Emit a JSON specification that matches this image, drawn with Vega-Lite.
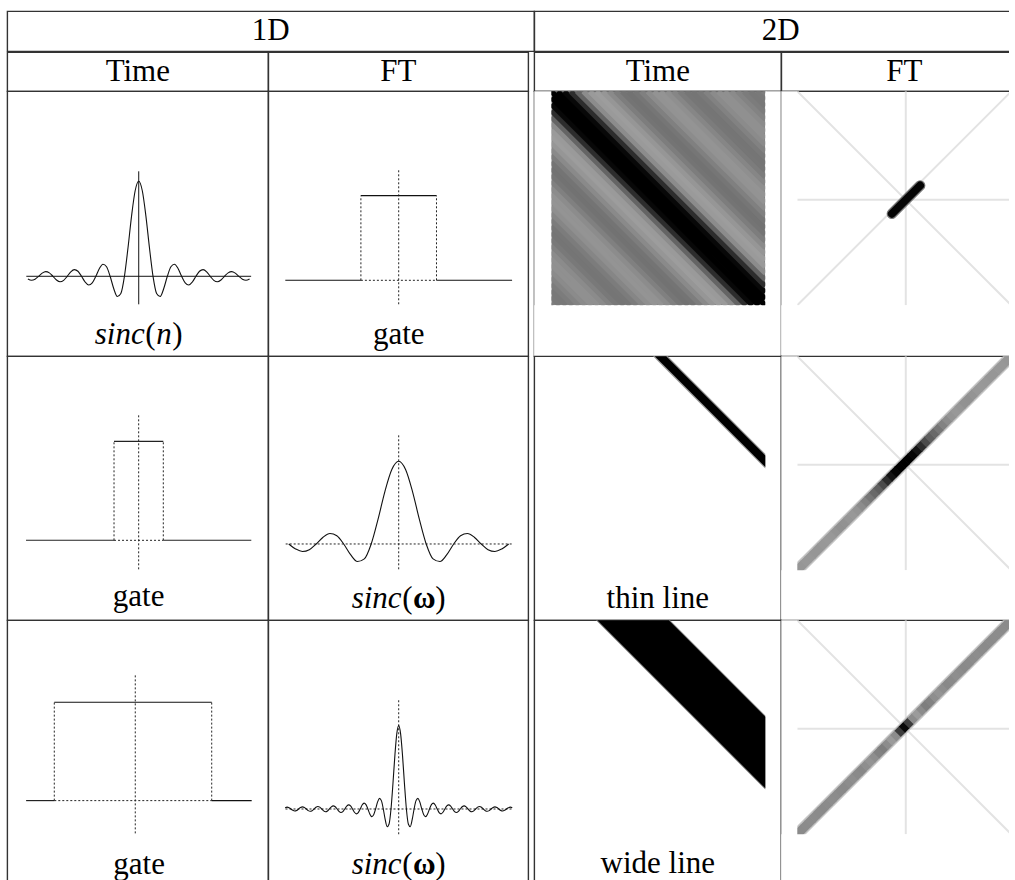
{
"$schema":"https://vega.github.io/schema/vega-lite/v6.json",
"background":"white",
"padding":{"left":6.3,"top":10.3,"right":-19.7,"bottom":-3.7},
"config":{"view":{"stroke":"#333","strokeWidth":1.4},"font":"Liberation Serif","text":{"font":"Liberation Serif","fontSize":31,"color":"#000"}},
"datasets":{
"sinc":[{"x":-14.75,"y":0.0153},{"x":-14.5,"y":0.022},{"x":-14.25,"y":0.0158},{"x":-14,"y":0},{"x":-13.75,"y":-0.0164},{"x":-13.5,"y":-0.0236},{"x":-13.25,"y":-0.017},{"x":-13,"y":0},{"x":-12.75,"y":0.0177},{"x":-12.5,"y":0.0255},{"x":-12.25,"y":0.0184},{"x":-12,"y":0},{"x":-11.75,"y":-0.0192},{"x":-11.5,"y":-0.0277},{"x":-11.25,"y":-0.02},{"x":-11,"y":0},{"x":-10.75,"y":0.0209},{"x":-10.5,"y":0.0303},{"x":-10.25,"y":0.022},{"x":-10,"y":0},{"x":-9.75,"y":-0.0231},{"x":-9.5,"y":-0.0335},{"x":-9.25,"y":-0.0243},{"x":-9,"y":0},{"x":-8.75,"y":0.0257},{"x":-8.5,"y":0.0374},{"x":-8.25,"y":0.0273},{"x":-8,"y":0},{"x":-7.75,"y":-0.029},{"x":-7.5,"y":-0.0424},{"x":-7.25,"y":-0.031},{"x":-7,"y":0},{"x":-6.75,"y":0.0333},{"x":-6.5,"y":0.049},{"x":-6.25,"y":0.036},{"x":-6,"y":0},{"x":-5.75,"y":-0.0391},{"x":-5.5,"y":-0.0579},{"x":-5.25,"y":-0.0429},{"x":-5,"y":0},{"x":-4.75,"y":0.0474},{"x":-4.5,"y":0.0707},{"x":-4.25,"y":0.053},{"x":-4,"y":0},{"x":-3.75,"y":-0.06},{"x":-3.5,"y":-0.0909},{"x":-3.25,"y":-0.0693},{"x":-3,"y":0},{"x":-2.75,"y":0.0818},{"x":-2.5,"y":0.1273},{"x":-2.25,"y":0.1},{"x":-2,"y":0},{"x":-1.75,"y":-0.1286},{"x":-1.5,"y":-0.2122},{"x":-1.25,"y":-0.1801},{"x":-1,"y":0},{"x":-0.75,"y":0.3001},{"x":-0.5,"y":0.6366},{"x":-0.25,"y":0.9003},{"x":0,"y":1},{"x":0.25,"y":0.9003},{"x":0.5,"y":0.6366},{"x":0.75,"y":0.3001},{"x":1,"y":0},{"x":1.25,"y":-0.1801},{"x":1.5,"y":-0.2122},{"x":1.75,"y":-0.1286},{"x":2,"y":0},{"x":2.25,"y":0.1},{"x":2.5,"y":0.1273},{"x":2.75,"y":0.0818},{"x":3,"y":0},{"x":3.25,"y":-0.0693},{"x":3.5,"y":-0.0909},{"x":3.75,"y":-0.06},{"x":4,"y":0},{"x":4.25,"y":0.053},{"x":4.5,"y":0.0707},{"x":4.75,"y":0.0474},{"x":5,"y":0},{"x":5.25,"y":-0.0429},{"x":5.5,"y":-0.0579},{"x":5.75,"y":-0.0391},{"x":6,"y":0},{"x":6.25,"y":0.036},{"x":6.5,"y":0.049},{"x":6.75,"y":0.0333},{"x":7,"y":0},{"x":7.25,"y":-0.031},{"x":7.5,"y":-0.0424},{"x":7.75,"y":-0.029},{"x":8,"y":0},{"x":8.25,"y":0.0273},{"x":8.5,"y":0.0374},{"x":8.75,"y":0.0257},{"x":9,"y":0},{"x":9.25,"y":-0.0243},{"x":9.5,"y":-0.0335},{"x":9.75,"y":-0.0231},{"x":10,"y":0},{"x":10.25,"y":0.022},{"x":10.5,"y":0.0303},{"x":10.75,"y":0.0209},{"x":11,"y":0},{"x":11.25,"y":-0.02},{"x":11.5,"y":-0.0277},{"x":11.75,"y":-0.0192},{"x":12,"y":0},{"x":12.25,"y":0.0184},{"x":12.5,"y":0.0255},{"x":12.75,"y":0.0177},{"x":13,"y":0},{"x":13.25,"y":-0.017},{"x":13.5,"y":-0.0236},{"x":13.75,"y":-0.0164},{"x":14,"y":0},{"x":14.25,"y":0.0158},{"x":14.5,"y":0.022},{"x":14.75,"y":0.0153}],
"stripes":[{"x":0,"y":0.99,"x2":0.01,"y2":1,"g":126},{"x":0,"y":0.96,"x2":0.04,"y2":1,"g":121},{"x":0,"y":0.93,"x2":0.07,"y2":1,"g":120},{"x":0,"y":0.9,"x2":0.1,"y2":1,"g":124},{"x":0,"y":0.87,"x2":0.13,"y2":1,"g":131},{"x":0,"y":0.84,"x2":0.16,"y2":1,"g":139},{"x":0,"y":0.81,"x2":0.19,"y2":1,"g":144},{"x":0,"y":0.78,"x2":0.22,"y2":1,"g":144},{"x":0,"y":0.75,"x2":0.25,"y2":1,"g":139},{"x":0,"y":0.72,"x2":0.28,"y2":1,"g":130},{"x":0,"y":0.69,"x2":0.31,"y2":1,"g":121},{"x":0,"y":0.66,"x2":0.34,"y2":1,"g":117},{"x":0,"y":0.63,"x2":0.37,"y2":1,"g":118},{"x":0,"y":0.6,"x2":0.4,"y2":1,"g":124},{"x":0,"y":0.57,"x2":0.43,"y2":1,"g":134},{"x":0,"y":0.54,"x2":0.46,"y2":1,"g":143},{"x":0,"y":0.51,"x2":0.49,"y2":1,"g":148},{"x":0,"y":0.48,"x2":0.52,"y2":1,"g":147},{"x":0,"y":0.45,"x2":0.55,"y2":1,"g":140},{"x":0,"y":0.42,"x2":0.58,"y2":1,"g":128},{"x":0,"y":0.39,"x2":0.61,"y2":1,"g":118},{"x":0,"y":0.36,"x2":0.64,"y2":1,"g":114},{"x":0,"y":0.33,"x2":0.67,"y2":1,"g":116},{"x":0,"y":0.3,"x2":0.7,"y2":1,"g":125},{"x":0,"y":0.27,"x2":0.73,"y2":1,"g":138},{"x":0,"y":0.24,"x2":0.76,"y2":1,"g":150},{"x":0,"y":0.21,"x2":0.79,"y2":1,"g":157},{"x":0,"y":0.18,"x2":0.82,"y2":1,"g":154},{"x":0,"y":0.15,"x2":0.85,"y2":1,"g":140},{"x":0,"y":0.12,"x2":0.88,"y2":1,"g":100},{"x":0,"y":0.09,"x2":0.91,"y2":1,"g":45},{"x":0,"y":0.06,"x2":0.94,"y2":1,"g":8},{"x":0,"y":0.03,"x2":0.97,"y2":1,"g":0},{"x":0,"y":0,"x2":1,"y2":1,"g":0},{"x":0.03,"y":0,"x2":1,"y2":0.97,"g":0},{"x":0.06,"y":0,"x2":1,"y2":0.94,"g":8},{"x":0.09,"y":0,"x2":1,"y2":0.91,"g":45},{"x":0.12,"y":0,"x2":1,"y2":0.88,"g":100},{"x":0.15,"y":0,"x2":1,"y2":0.85,"g":140},{"x":0.18,"y":0,"x2":1,"y2":0.82,"g":154},{"x":0.21,"y":0,"x2":1,"y2":0.79,"g":157},{"x":0.24,"y":0,"x2":1,"y2":0.76,"g":150},{"x":0.27,"y":0,"x2":1,"y2":0.73,"g":138},{"x":0.3,"y":0,"x2":1,"y2":0.7,"g":125},{"x":0.33,"y":0,"x2":1,"y2":0.67,"g":116},{"x":0.36,"y":0,"x2":1,"y2":0.64,"g":114},{"x":0.39,"y":0,"x2":1,"y2":0.61,"g":118},{"x":0.42,"y":0,"x2":1,"y2":0.58,"g":128},{"x":0.45,"y":0,"x2":1,"y2":0.55,"g":140},{"x":0.48,"y":0,"x2":1,"y2":0.52,"g":147},{"x":0.51,"y":0,"x2":1,"y2":0.49,"g":148},{"x":0.54,"y":0,"x2":1,"y2":0.46,"g":143},{"x":0.57,"y":0,"x2":1,"y2":0.43,"g":134},{"x":0.6,"y":0,"x2":1,"y2":0.4,"g":124},{"x":0.63,"y":0,"x2":1,"y2":0.37,"g":118},{"x":0.66,"y":0,"x2":1,"y2":0.34,"g":117},{"x":0.69,"y":0,"x2":1,"y2":0.31,"g":121},{"x":0.72,"y":0,"x2":1,"y2":0.28,"g":130},{"x":0.75,"y":0,"x2":1,"y2":0.25,"g":139},{"x":0.78,"y":0,"x2":1,"y2":0.22,"g":144},{"x":0.81,"y":0,"x2":1,"y2":0.19,"g":144},{"x":0.84,"y":0,"x2":1,"y2":0.16,"g":139},{"x":0.87,"y":0,"x2":1,"y2":0.13,"g":131},{"x":0.9,"y":0,"x2":1,"y2":0.1,"g":124},{"x":0.93,"y":0,"x2":1,"y2":0.07,"g":120},{"x":0.96,"y":0,"x2":1,"y2":0.04,"g":121},{"x":0.99,"y":0,"x2":1,"y2":0.01,"g":126}],
"diag":[{"x":-0.011,"x2":0.011,"y":1.011,"y2":0.989,"g2":150,"g3":138},{"x":0.009,"x2":0.031,"y":0.991,"y2":0.969,"g2":150,"g3":138},{"x":0.029,"x2":0.051,"y":0.971,"y2":0.949,"g2":152,"g3":139},{"x":0.049,"x2":0.071,"y":0.951,"y2":0.929,"g2":152,"g3":140},{"x":0.069,"x2":0.091,"y":0.931,"y2":0.909,"g2":150,"g3":140},{"x":0.089,"x2":0.111,"y":0.911,"y2":0.889,"g2":150,"g3":139},{"x":0.109,"x2":0.131,"y":0.891,"y2":0.869,"g2":152,"g3":138},{"x":0.129,"x2":0.151,"y":0.871,"y2":0.849,"g2":153,"g3":139},{"x":0.149,"x2":0.171,"y":0.851,"y2":0.829,"g2":152,"g3":141},{"x":0.169,"x2":0.191,"y":0.831,"y2":0.809,"g2":148,"g3":140},{"x":0.189,"x2":0.211,"y":0.811,"y2":0.789,"g2":145,"g3":138},{"x":0.209,"x2":0.231,"y":0.791,"y2":0.769,"g2":146,"g3":137},{"x":0.229,"x2":0.251,"y":0.771,"y2":0.749,"g2":150,"g3":140},{"x":0.249,"x2":0.271,"y":0.751,"y2":0.729,"g2":152,"g3":142},{"x":0.269,"x2":0.291,"y":0.731,"y2":0.709,"g2":148,"g3":138},{"x":0.289,"x2":0.311,"y":0.711,"y2":0.689,"g2":140,"g3":136},{"x":0.309,"x2":0.331,"y":0.691,"y2":0.669,"g2":130,"g3":142},{"x":0.329,"x2":0.351,"y":0.671,"y2":0.649,"g2":118,"g3":148},{"x":0.349,"x2":0.371,"y":0.651,"y2":0.629,"g2":105,"g3":142},{"x":0.369,"x2":0.391,"y":0.631,"y2":0.609,"g2":95,"g3":130},{"x":0.389,"x2":0.411,"y":0.611,"y2":0.589,"g2":75,"g3":126},{"x":0.409,"x2":0.431,"y":0.591,"y2":0.569,"g2":45,"g3":140},{"x":0.429,"x2":0.451,"y":0.571,"y2":0.549,"g2":20,"g3":155},{"x":0.449,"x2":0.471,"y":0.551,"y2":0.529,"g2":5,"g3":140},{"x":0.469,"x2":0.491,"y":0.531,"y2":0.509,"g2":0,"g3":60},{"x":0.489,"x2":0.511,"y":0.511,"y2":0.489,"g2":0,"g3":8},{"x":0.509,"x2":0.531,"y":0.491,"y2":0.469,"g2":0,"g3":60},{"x":0.529,"x2":0.551,"y":0.471,"y2":0.449,"g2":5,"g3":140},{"x":0.549,"x2":0.571,"y":0.451,"y2":0.429,"g2":20,"g3":155},{"x":0.569,"x2":0.591,"y":0.431,"y2":0.409,"g2":45,"g3":140},{"x":0.589,"x2":0.611,"y":0.411,"y2":0.389,"g2":75,"g3":126},{"x":0.609,"x2":0.631,"y":0.391,"y2":0.369,"g2":95,"g3":130},{"x":0.629,"x2":0.651,"y":0.371,"y2":0.349,"g2":105,"g3":142},{"x":0.649,"x2":0.671,"y":0.351,"y2":0.329,"g2":118,"g3":148},{"x":0.669,"x2":0.691,"y":0.331,"y2":0.309,"g2":130,"g3":142},{"x":0.689,"x2":0.711,"y":0.311,"y2":0.289,"g2":140,"g3":136},{"x":0.709,"x2":0.731,"y":0.291,"y2":0.269,"g2":148,"g3":138},{"x":0.729,"x2":0.751,"y":0.271,"y2":0.249,"g2":152,"g3":142},{"x":0.749,"x2":0.771,"y":0.251,"y2":0.229,"g2":150,"g3":140},{"x":0.769,"x2":0.791,"y":0.231,"y2":0.209,"g2":146,"g3":137},{"x":0.789,"x2":0.811,"y":0.211,"y2":0.189,"g2":145,"g3":138},{"x":0.809,"x2":0.831,"y":0.191,"y2":0.169,"g2":148,"g3":140},{"x":0.829,"x2":0.851,"y":0.171,"y2":0.149,"g2":152,"g3":141},{"x":0.849,"x2":0.871,"y":0.151,"y2":0.129,"g2":153,"g3":139},{"x":0.869,"x2":0.891,"y":0.131,"y2":0.109,"g2":152,"g3":138},{"x":0.889,"x2":0.911,"y":0.111,"y2":0.089,"g2":150,"g3":139},{"x":0.909,"x2":0.931,"y":0.091,"y2":0.069,"g2":150,"g3":140},{"x":0.929,"x2":0.951,"y":0.071,"y2":0.049,"g2":152,"g3":140},{"x":0.949,"x2":0.971,"y":0.051,"y2":0.029,"g2":152,"g3":139},{"x":0.969,"x2":0.991,"y":0.031,"y2":0.009,"g2":150,"g3":138},{"x":0.989,"x2":1.011,"y":0.011,"y2":-0.011,"g2":150,"g3":138}],
"ftgrid":[{"x":0.507,"y":0,"x2":0.507,"y2":1},{"x":0,"y":0.507,"x2":1,"y2":0.507},{"x":0,"y":0,"x2":1,"y2":1},{"x":0,"y":1,"x2":1,"y2":0}],
"halo":[{"x":-0.02,"y":1.02,"x2":1.02,"y2":-0.02}],
"frame":[{"x":-0.1,"x2":0,"y":-0.01,"y2":1.3},{"x":1,"x2":1.1,"y":-0.01,"y2":1.3},{"x":-0.1,"x2":1.1,"y":1,"y2":1.3}]
},
"spacing":-1.4,
"bounds":"full",
"vconcat":[
{"hconcat":[
 {"width":527,"height":40,"data":{"values":[{"label":"1D"}]},"mark":{"type":"text","baseline":"middle","align":"center"},"encoding":{"x":{"datum":0.5,"type":"quantitative","scale":{"domain":[0,1]},"axis":null},"y":{"datum":0.5,"type":"quantitative","scale":{"domain":[0,1]},"axis":null},"text":{"field":"label"}}},
 {"width":493,"height":40,"data":{"values":[{"label":"2D"}]},"mark":{"type":"text","baseline":"middle","align":"center"},"encoding":{"x":{"datum":0.5,"type":"quantitative","scale":{"domain":[0,1]},"axis":null},"y":{"datum":0.5,"type":"quantitative","scale":{"domain":[0,1]},"axis":null},"text":{"field":"label"}}}
],"spacing":0,"bounds":"flush"},
{"columns":5,"align":"each","bounds":"flush","spacing":0,
"concat":[
 {"width":261,"height":39,"data":{"values":[{"label":"Time"}]},"mark":{"type":"text","baseline":"middle","align":"center"},"encoding":{"x":{"datum":0.5,"type":"quantitative","scale":{"domain":[0,1]},"axis":null},"y":{"datum":0.5,"type":"quantitative","scale":{"domain":[0,1]},"axis":null},"text":{"field":"label"}}},
 {"width":260,"height":39,"data":{"values":[{"label":"FT"}]},"mark":{"type":"text","baseline":"middle","align":"center"},"encoding":{"x":{"datum":0.5,"type":"quantitative","scale":{"domain":[0,1]},"axis":null},"y":{"datum":0.5,"type":"quantitative","scale":{"domain":[0,1]},"axis":null},"text":{"field":"label"}}},
 {"width":6,"height":39,"view":{"stroke":null},"data":{"values":[]},"mark":"point"},
 {"width":247,"height":39,"data":{"values":[{"label":"Time"}]},"mark":{"type":"text","baseline":"middle","align":"center"},"encoding":{"x":{"datum":0.5,"type":"quantitative","scale":{"domain":[0,1]},"axis":null},"y":{"datum":0.5,"type":"quantitative","scale":{"domain":[0,1]},"axis":null},"text":{"field":"label"}}},
 {"width":246,"height":39,"data":{"values":[{"label":"FT"}]},"mark":{"type":"text","baseline":"middle","align":"center"},"encoding":{"x":{"datum":0.5,"type":"quantitative","scale":{"domain":[0,1]},"axis":null},"y":{"datum":0.5,"type":"quantitative","scale":{"domain":[0,1]},"axis":null},"text":{"field":"label"}}},

 {"width":261,"height":265,
  "layer":[
   {"data":{"values":[{"x":-7.86,"x2":7.86,"y":0,"y2":0},{"x":0,"x2":0,"y":-0.295,"y2":1.105}]},"mark":{"type":"rule","color":"#111","strokeWidth":1},"encoding":{"x":{"field":"x","type":"quantitative","scale":{"domain":[-9.19,9.06],"nice":false,"zero":false},"axis":null},"y":{"field":"y","type":"quantitative","scale":{"domain":[-0.842,1.947],"nice":false,"zero":false},"axis":null},"x2":{"field":"x2"},"y2":{"field":"y2"}}},
   {"data":{"name":"sinc"},"transform":[{"filter":"abs(datum.x) <= 7.76"}],"mark":{"type":"line","color":"#111","strokeWidth":1.1,"interpolate":"monotone"},"encoding":{"x":{"field":"x","type":"quantitative","scale":{"domain":[-9.19,9.06],"nice":false,"zero":false},"axis":null},"y":{"field":"y","type":"quantitative","scale":{"domain":[-0.842,1.947],"nice":false,"zero":false},"axis":null}}},
   {"data":{"values":[{"label":"sinc"}]},"mark":{"type":"text","align":"left","baseline":"alphabetic","fontStyle":"italic","dx":-44},"encoding":{"x":{"datum":0,"type":"quantitative","axis":null},"y":{"datum":-0.716,"type":"quantitative","axis":null},"text":{"field":"label"}}},
   {"data":{"values":[{"label":"("}]},"mark":{"type":"text","align":"left","baseline":"alphabetic","dx":6.5},"encoding":{"x":{"datum":0,"type":"quantitative","axis":null},"y":{"datum":-0.716,"type":"quantitative","axis":null},"text":{"field":"label"}}},
   {"data":{"values":[{"label":"n"}]},"mark":{"type":"text","align":"left","baseline":"alphabetic","fontStyle":"italic","dx":17.5},"encoding":{"x":{"datum":0,"type":"quantitative","axis":null},"y":{"datum":-0.716,"type":"quantitative","axis":null},"text":{"field":"label"}}},
   {"data":{"values":[{"label":")"}]},"mark":{"type":"text","align":"left","baseline":"alphabetic","dx":33.5},"encoding":{"x":{"datum":0,"type":"quantitative","axis":null},"y":{"datum":-0.716,"type":"quantitative","axis":null},"text":{"field":"label"}}}
  ]},
 {"width":260,"height":265,
  "layer":[
   {"data":{"values":[{"x":-1,"x2":-1,"y":0,"y2":1},{"x":1,"x2":1,"y":0,"y2":1},{"x":-1,"x2":1,"y":0,"y2":0},{"x":0,"x2":0,"y":-0.283,"y2":1.299}]},"mark":{"type":"rule","color":"#222","strokeWidth":1,"strokeDash":[2,2]},"encoding":{"x":{"field":"x","type":"quantitative","scale":{"domain":[-3.45,3.429],"nice":false,"zero":false},"axis":null},"y":{"field":"y","type":"quantitative","scale":{"domain":[-0.897,2.231],"nice":false,"zero":false},"axis":null},"x2":{"field":"x2"},"y2":{"field":"y2"}}},
   {"data":{"values":[{"x":-3,"x2":-1,"y":0,"y2":0},{"x":-1,"x2":1,"y":1,"y2":1},{"x":1,"x2":3,"y":0,"y2":0}]},"mark":{"type":"rule","color":"#111","strokeWidth":1.1},"encoding":{"x":{"field":"x","type":"quantitative","scale":{"domain":[-3.45,3.429],"nice":false,"zero":false},"axis":null},"y":{"field":"y","type":"quantitative","scale":{"domain":[-0.897,2.231],"nice":false,"zero":false},"axis":null},"x2":{"field":"x2"},"y2":{"field":"y2"}}},
   {"data":{"values":[{"label":"gate"}]},"mark":{"type":"text","align":"center","baseline":"alphabetic"},"encoding":{"x":{"datum":0,"type":"quantitative","axis":null},"y":{"datum":-0.756,"type":"quantitative","axis":null},"text":{"field":"label"}}}
  ]},
 {"width":6,"height":265,"view":{"stroke":null},"data":{"values":[]},"mark":"point"},
 {"width":247,"height":265,
  "layer":[
   {"data":{"values":[{"x":0,"x2":1,"y":0,"y2":1}]},"mark":{"type":"rect","color":"#848484"},"encoding":{"x":{"field":"x","type":"quantitative","scale":{"domain":[-0.07944,1.07477],"nice":false,"zero":false},"axis":null},"y":{"field":"y","type":"quantitative","scale":{"domain":[0,1.23832],"nice":false,"zero":false,"reverse":true},"axis":null},"x2":{"field":"x2"},"y2":{"field":"y2"}}},
   {"data":{"name":"stripes"},"mark":{"type":"rule","strokeWidth":5.3,"strokeCap":"butt","clip":true},"encoding":{"x":{"field":"x","type":"quantitative","scale":{"domain":[-0.07944,1.07477],"nice":false,"zero":false},"axis":null},"y":{"field":"y","type":"quantitative","scale":{"domain":[0,1.23832],"nice":false,"zero":false,"reverse":true},"axis":null},"x2":{"field":"x2"},"y2":{"field":"y2"},"color":{"field":"g","type":"quantitative","scale":{"domain":[0,255],"range":["#000000","#ffffff"],"interpolate":"rgb"},"legend":null}}},
   {"data":{"name":"frame"},"mark":{"type":"rect","color":"#ffffff","clip":true},"encoding":{"x":{"field":"x","type":"quantitative","scale":{"domain":[-0.07944,1.07477],"nice":false,"zero":false},"axis":null},"y":{"field":"y","type":"quantitative","scale":{"domain":[0,1.23832],"nice":false,"zero":false,"reverse":true},"axis":null},"x2":{"field":"x2"},"y2":{"field":"y2"}}}
  ]},
 {"width":246,"height":265,
  "layer":[
   {"data":{"name":"ftgrid"},"mark":{"type":"rule","color":"#e3e3e3","strokeWidth":2,"clip":true},"encoding":{"x":{"field":"x","type":"quantitative","scale":{"domain":[-0.07477,1.07477],"nice":false,"zero":false},"axis":null},"y":{"field":"y","type":"quantitative","scale":{"domain":[0,1.23832],"nice":false,"zero":false,"reverse":true},"axis":null},"x2":{"field":"x2"},"y2":{"field":"y2"}}},
   {"data":{"values":[{"x":0.442,"y":0.572,"x2":0.574,"y2":0.44}]},"mark":{"type":"rule","color":"#777","strokeWidth":10.5,"strokeCap":"round"},"encoding":{"x":{"field":"x","type":"quantitative","scale":{"domain":[-0.07477,1.07477],"nice":false,"zero":false},"axis":null},"y":{"field":"y","type":"quantitative","scale":{"domain":[0,1.23832],"nice":false,"zero":false,"reverse":true},"axis":null},"x2":{"field":"x2"},"y2":{"field":"y2"}}},
   {"data":{"values":[{"x":0.442,"y":0.572,"x2":0.574,"y2":0.44}]},"mark":{"type":"rule","color":"#050505","strokeWidth":8,"strokeCap":"round"},"encoding":{"x":{"field":"x","type":"quantitative","scale":{"domain":[-0.07477,1.07477],"nice":false,"zero":false},"axis":null},"y":{"field":"y","type":"quantitative","scale":{"domain":[0,1.23832],"nice":false,"zero":false,"reverse":true},"axis":null},"x2":{"field":"x2"},"y2":{"field":"y2"}}},
   {"data":{"name":"frame"},"mark":{"type":"rect","color":"#ffffff","clip":true},"encoding":{"x":{"field":"x","type":"quantitative","scale":{"domain":[-0.07477,1.07477],"nice":false,"zero":false},"axis":null},"y":{"field":"y","type":"quantitative","scale":{"domain":[0,1.23832],"nice":false,"zero":false,"reverse":true},"axis":null},"x2":{"field":"x2"},"y2":{"field":"y2"}}}
  ]},

 {"width":261,"height":264,
  "layer":[
   {"data":{"values":[{"x":-1,"x2":-1,"y":0,"y2":1},{"x":1,"x2":1,"y":0,"y2":1},{"x":-1,"x2":1,"y":0,"y2":0},{"x":0,"x2":0,"y":-0.293,"y2":1.276}]},"mark":{"type":"rule","color":"#222","strokeWidth":1,"strokeDash":[2,2]},"encoding":{"x":{"field":"x","type":"quantitative","scale":{"domain":[-5.33,5.26],"nice":false,"zero":false},"axis":null},"y":{"field":"y","type":"quantitative","scale":{"domain":[-0.808,1.859],"nice":false,"zero":false},"axis":null},"x2":{"field":"x2"},"y2":{"field":"y2"}}},
   {"data":{"values":[{"x":-4.57,"x2":-1,"y":0,"y2":0},{"x":-1,"x2":1,"y":1,"y2":1},{"x":1,"x2":4.57,"y":0,"y2":0}]},"mark":{"type":"rule","color":"#222","strokeWidth":1.1},"encoding":{"x":{"field":"x","type":"quantitative","scale":{"domain":[-5.33,5.26],"nice":false,"zero":false},"axis":null},"y":{"field":"y","type":"quantitative","scale":{"domain":[-0.808,1.859],"nice":false,"zero":false},"axis":null},"x2":{"field":"x2"},"y2":{"field":"y2"}}},
   {"data":{"values":[{"label":"gate"}]},"mark":{"type":"text","align":"center","baseline":"alphabetic"},"encoding":{"x":{"datum":0,"type":"quantitative","axis":null},"y":{"datum":-0.667,"type":"quantitative","axis":null},"text":{"field":"label"}}}
  ]},
 {"width":260,"height":264,
  "layer":[
   {"data":{"values":[{"x":-4.11,"x2":4.11,"y":0,"y2":0},{"x":0,"x2":0,"y":-0.306,"y2":1.314}]},"mark":{"type":"rule","color":"#222","strokeWidth":1,"strokeDash":[2,2]},"encoding":{"x":{"field":"x","type":"quantitative","scale":{"domain":[-4.742,4.713],"nice":false,"zero":false},"axis":null},"y":{"field":"y","type":"quantitative","scale":{"domain":[-0.923,2.27],"nice":false,"zero":false},"axis":null},"x2":{"field":"x2"},"y2":{"field":"y2"}}},
   {"data":{"name":"sinc"},"transform":[{"filter":"abs(datum.x) <= 4.01"}],"mark":{"type":"line","color":"#111","strokeWidth":1.1,"interpolate":"monotone"},"encoding":{"x":{"field":"x","type":"quantitative","scale":{"domain":[-4.742,4.713],"nice":false,"zero":false},"axis":null},"y":{"field":"y","type":"quantitative","scale":{"domain":[-0.923,2.27],"nice":false,"zero":false},"axis":null}}},
   {"data":{"values":[{"label":"sinc"}]},"mark":{"type":"text","align":"left","baseline":"alphabetic","fontStyle":"italic","dx":-47},"encoding":{"x":{"datum":0,"type":"quantitative","axis":null},"y":{"datum":-0.771,"type":"quantitative","axis":null},"text":{"field":"label"}}},
   {"data":{"values":[{"label":"("}]},"mark":{"type":"text","align":"left","baseline":"alphabetic","dx":3.5},"encoding":{"x":{"datum":0,"type":"quantitative","axis":null},"y":{"datum":-0.771,"type":"quantitative","axis":null},"text":{"field":"label"}}},
   {"data":{"values":[{"label":"ω"}]},"mark":{"type":"text","align":"left","baseline":"alphabetic","fontWeight":"bold","dx":14.3},"encoding":{"x":{"datum":0,"type":"quantitative","axis":null},"y":{"datum":-0.771,"type":"quantitative","axis":null},"text":{"field":"label"}}},
   {"data":{"values":[{"label":")"}]},"mark":{"type":"text","align":"left","baseline":"alphabetic","dx":36.5},"encoding":{"x":{"datum":0,"type":"quantitative","axis":null},"y":{"datum":-0.771,"type":"quantitative","axis":null},"text":{"field":"label"}}}
  ]},
 {"width":6,"height":264,"view":{"stroke":null},"data":{"values":[]},"mark":"point"},
 {"width":247,"height":264,
  "layer":[
   {"data":{"values":[{"x":0.4753,"y":0,"y2":0},{"x":0.5447,"y":0,"y2":0.0694},{"x":1,"y":0.4553,"y2":0.5247}]},"mark":{"type":"area","color":"#9a9a9a","interpolate":"linear"},"encoding":{"x":{"field":"x","type":"quantitative","scale":{"domain":[-0.07944,1.07477],"nice":false,"zero":false},"axis":null},"y":{"field":"y","type":"quantitative","scale":{"domain":[0,1.23364],"nice":false,"zero":false,"reverse":true},"axis":null},"y2":{"field":"y2"}}},
   {"data":{"values":[{"x":0.483,"y":0,"y2":0},{"x":0.537,"y":0,"y2":0.054},{"x":1,"y":0.463,"y2":0.517}]},"mark":{"type":"area","color":"#000","interpolate":"linear"},"encoding":{"x":{"field":"x","type":"quantitative","scale":{"domain":[-0.07944,1.07477],"nice":false,"zero":false},"axis":null},"y":{"field":"y","type":"quantitative","scale":{"domain":[0,1.23364],"nice":false,"zero":false,"reverse":true},"axis":null},"y2":{"field":"y2"}}},
   {"data":{"values":[{"label":"thin line"}]},"mark":{"type":"text","align":"center","baseline":"alphabetic"},"encoding":{"x":{"datum":0.4977,"type":"quantitative","axis":null},"y":{"datum":1.178,"type":"quantitative","axis":null},"text":{"field":"label"}}}
  ]},
 {"width":246,"height":264,
  "layer":[
   {"data":{"name":"ftgrid"},"mark":{"type":"rule","color":"#e3e3e3","strokeWidth":2,"clip":true},"encoding":{"x":{"field":"x","type":"quantitative","scale":{"domain":[-0.07477,1.07477],"nice":false,"zero":false},"axis":null},"y":{"field":"y","type":"quantitative","scale":{"domain":[0,1.23364],"nice":false,"zero":false,"reverse":true},"axis":null},"x2":{"field":"x2"},"y2":{"field":"y2"}}},
   {"data":{"name":"halo"},"mark":{"type":"rule","color":"#c4c4c4","strokeWidth":12,"strokeCap":"butt","clip":true},"encoding":{"x":{"field":"x","type":"quantitative","scale":{"domain":[-0.07477,1.07477],"nice":false,"zero":false},"axis":null},"y":{"field":"y","type":"quantitative","scale":{"domain":[0,1.23364],"nice":false,"zero":false,"reverse":true},"axis":null},"x2":{"field":"x2"},"y2":{"field":"y2"}}},
   {"data":{"name":"diag"},"mark":{"type":"rule","strokeWidth":9,"strokeCap":"butt","clip":true},"encoding":{"x":{"field":"x","type":"quantitative","scale":{"domain":[-0.07477,1.07477],"nice":false,"zero":false},"axis":null},"y":{"field":"y","type":"quantitative","scale":{"domain":[0,1.23364],"nice":false,"zero":false,"reverse":true},"axis":null},"x2":{"field":"x2"},"y2":{"field":"y2"},"color":{"field":"g2","type":"quantitative","scale":{"domain":[0,255],"range":["#000000","#ffffff"],"interpolate":"rgb"},"legend":null}}},
   {"data":{"name":"frame"},"mark":{"type":"rect","color":"#ffffff","clip":true},"encoding":{"x":{"field":"x","type":"quantitative","scale":{"domain":[-0.07477,1.07477],"nice":false,"zero":false},"axis":null},"y":{"field":"y","type":"quantitative","scale":{"domain":[0,1.23364],"nice":false,"zero":false,"reverse":true},"axis":null},"x2":{"field":"x2"},"y2":{"field":"y2"}}}
  ]},

 {"width":261,"height":264,
  "layer":[
   {"data":{"values":[{"x":-1,"x2":-1,"y":0,"y2":1},{"x":1,"x2":1,"y":0,"y2":1},{"x":-1,"x2":1,"y":0,"y2":0},{"x":0.029,"x2":0.029,"y":-0.333,"y2":1.275}]},"mark":{"type":"rule","color":"#222","strokeWidth":1,"strokeDash":[2,2]},"encoding":{"x":{"field":"x","type":"quantitative","scale":{"domain":[-1.597,1.719],"nice":false,"zero":false},"axis":null},"y":{"field":"y","type":"quantitative","scale":{"domain":[-0.851,1.834],"nice":false,"zero":false},"axis":null},"x2":{"field":"x2"},"y2":{"field":"y2"}}},
   {"data":{"values":[{"x":-1.358,"x2":-1,"y":0,"y2":0},{"x":-1,"x2":1,"y":1,"y2":1},{"x":1,"x2":1.508,"y":0,"y2":0}]},"mark":{"type":"rule","color":"#111","strokeWidth":1.1},"encoding":{"x":{"field":"x","type":"quantitative","scale":{"domain":[-1.597,1.719],"nice":false,"zero":false},"axis":null},"y":{"field":"y","type":"quantitative","scale":{"domain":[-0.851,1.834],"nice":false,"zero":false},"axis":null},"x2":{"field":"x2"},"y2":{"field":"y2"}}},
   {"data":{"values":[{"label":"gate"}]},"mark":{"type":"text","align":"center","baseline":"alphabetic"},"encoding":{"x":{"datum":0.0775,"type":"quantitative","axis":null},"y":{"datum":-0.747,"type":"quantitative","axis":null},"text":{"field":"label"}}}
  ]},
 {"width":260,"height":264,
  "layer":[
   {"data":{"values":[{"x":-14.7,"x2":14.7,"y":0,"y2":0},{"x":0,"x2":0,"y":-0.303,"y2":1.315}]},"mark":{"type":"rule","color":"#222","strokeWidth":1,"strokeDash":[2,2]},"encoding":{"x":{"field":"x","type":"quantitative","scale":{"domain":[-16.935,16.831],"nice":false,"zero":false},"axis":null},"y":{"field":"y","type":"quantitative","scale":{"domain":[-0.903,2.263],"nice":false,"zero":false},"axis":null},"x2":{"field":"x2"},"y2":{"field":"y2"}}},
   {"data":{"name":"sinc"},"mark":{"type":"line","color":"#111","strokeWidth":1.1,"interpolate":"monotone"},"encoding":{"x":{"field":"x","type":"quantitative","scale":{"domain":[-16.935,16.831],"nice":false,"zero":false},"axis":null},"y":{"field":"y","type":"quantitative","scale":{"domain":[-0.903,2.263],"nice":false,"zero":false},"axis":null}}},
   {"data":{"values":[{"label":"sinc"}]},"mark":{"type":"text","align":"left","baseline":"alphabetic","fontStyle":"italic","dx":-47},"encoding":{"x":{"datum":0,"type":"quantitative","axis":null},"y":{"datum":-0.783,"type":"quantitative","axis":null},"text":{"field":"label"}}},
   {"data":{"values":[{"label":"("}]},"mark":{"type":"text","align":"left","baseline":"alphabetic","dx":3.5},"encoding":{"x":{"datum":0,"type":"quantitative","axis":null},"y":{"datum":-0.783,"type":"quantitative","axis":null},"text":{"field":"label"}}},
   {"data":{"values":[{"label":"ω"}]},"mark":{"type":"text","align":"left","baseline":"alphabetic","fontWeight":"bold","dx":14.3},"encoding":{"x":{"datum":0,"type":"quantitative","axis":null},"y":{"datum":-0.783,"type":"quantitative","axis":null},"text":{"field":"label"}}},
   {"data":{"values":[{"label":")"}]},"mark":{"type":"text","align":"left","baseline":"alphabetic","dx":36.5},"encoding":{"x":{"datum":0,"type":"quantitative","axis":null},"y":{"datum":-0.783,"type":"quantitative","axis":null},"text":{"field":"label"}}}
  ]},
 {"width":6,"height":264,"view":{"stroke":null},"data":{"values":[]},"mark":"point"},
 {"width":247,"height":264,
  "layer":[
   {"data":{"values":[{"x":0.209,"y":0,"y2":0},{"x":0.555,"y":0,"y2":0.346},{"x":1,"y":0.445,"y2":0.791}]},"mark":{"type":"area","color":"#808080","interpolate":"linear"},"encoding":{"x":{"field":"x","type":"quantitative","scale":{"domain":[-0.07944,1.07477],"nice":false,"zero":false},"axis":null},"y":{"field":"y","type":"quantitative","scale":{"domain":[0,1.23364],"nice":false,"zero":false,"reverse":true},"axis":null},"y2":{"field":"y2"}}},
   {"data":{"values":[{"x":0.215,"y":0,"y2":0},{"x":0.549,"y":0,"y2":0.334},{"x":1,"y":0.451,"y2":0.785}]},"mark":{"type":"area","color":"#000","interpolate":"linear"},"encoding":{"x":{"field":"x","type":"quantitative","scale":{"domain":[-0.07944,1.07477],"nice":false,"zero":false},"axis":null},"y":{"field":"y","type":"quantitative","scale":{"domain":[0,1.23364],"nice":false,"zero":false,"reverse":true},"axis":null},"y2":{"field":"y2"}}},
   {"data":{"values":[{"label":"wide line"}]},"mark":{"type":"text","align":"center","baseline":"alphabetic"},"encoding":{"x":{"datum":0.4977,"type":"quantitative","axis":null},"y":{"datum":1.181,"type":"quantitative","axis":null},"text":{"field":"label"}}}
  ]},
 {"width":246,"height":264,
  "layer":[
   {"data":{"name":"ftgrid"},"mark":{"type":"rule","color":"#e3e3e3","strokeWidth":2,"clip":true},"encoding":{"x":{"field":"x","type":"quantitative","scale":{"domain":[-0.07477,1.07477],"nice":false,"zero":false},"axis":null},"y":{"field":"y","type":"quantitative","scale":{"domain":[0,1.23364],"nice":false,"zero":false,"reverse":true},"axis":null},"x2":{"field":"x2"},"y2":{"field":"y2"}}},
   {"data":{"name":"halo"},"mark":{"type":"rule","color":"#c4c4c4","strokeWidth":12,"strokeCap":"butt","clip":true},"encoding":{"x":{"field":"x","type":"quantitative","scale":{"domain":[-0.07477,1.07477],"nice":false,"zero":false},"axis":null},"y":{"field":"y","type":"quantitative","scale":{"domain":[0,1.23364],"nice":false,"zero":false,"reverse":true},"axis":null},"x2":{"field":"x2"},"y2":{"field":"y2"}}},
   {"data":{"name":"diag"},"mark":{"type":"rule","strokeWidth":9,"strokeCap":"butt","clip":true},"encoding":{"x":{"field":"x","type":"quantitative","scale":{"domain":[-0.07477,1.07477],"nice":false,"zero":false},"axis":null},"y":{"field":"y","type":"quantitative","scale":{"domain":[0,1.23364],"nice":false,"zero":false,"reverse":true},"axis":null},"x2":{"field":"x2"},"y2":{"field":"y2"},"color":{"field":"g3","type":"quantitative","scale":{"domain":[0,255],"range":["#000000","#ffffff"],"interpolate":"rgb"},"legend":null}}},
   {"data":{"name":"frame"},"mark":{"type":"rect","color":"#ffffff","clip":true},"encoding":{"x":{"field":"x","type":"quantitative","scale":{"domain":[-0.07477,1.07477],"nice":false,"zero":false},"axis":null},"y":{"field":"y","type":"quantitative","scale":{"domain":[0,1.23364],"nice":false,"zero":false,"reverse":true},"axis":null},"x2":{"field":"x2"},"y2":{"field":"y2"}}}
  ]}
]}
]
}
